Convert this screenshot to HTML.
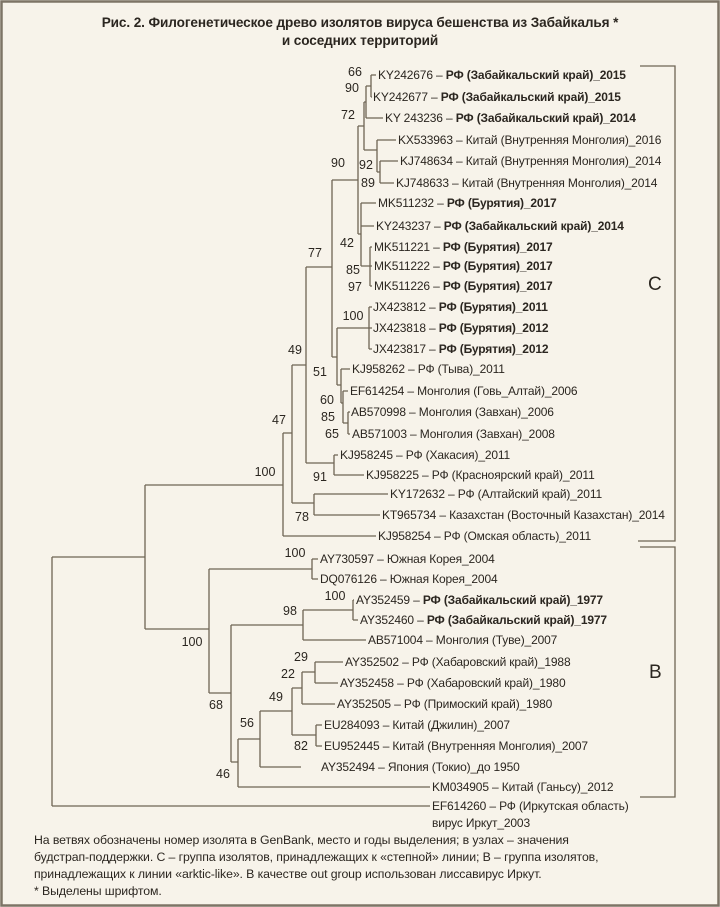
<!DOCTYPE html>
<html><head><meta charset="utf-8"><style>
html,body{margin:0;padding:0;background:#f7f3ea;}
svg{display:block;}
text{font-family:"Liberation Sans","Noto Sans CJK SC",sans-serif;fill:#2b2620;}
.l{font-size:12px;letter-spacing:-0.15px;}
.n{font-size:12.5px;text-anchor:middle;}
.b{font-weight:bold;}
</style></head><body>
<svg width="720" height="907" viewBox="0 0 720 907" xmlns="http://www.w3.org/2000/svg">
<rect x="1.5" y="1.5" width="717" height="904" fill="#f7f3ea" stroke="#7d7466" stroke-width="2.5"/>
<text x="360" y="27" class="b" style="font-size:13.6px;letter-spacing:-0.1px" text-anchor="middle">Рис. 2. Филогенетическое древо изолятов вируса бешенства из Забайкалья *</text>
<text x="360" y="45" class="b" style="font-size:13.6px;letter-spacing:-0.1px" text-anchor="middle">и соседних территорий</text>
<g stroke="#6e6454" stroke-width="1.3" fill="none">
<path d="M371 75V97M371 75H376M371 97H372
M366 86V118M366 86H371M366 118H383
M364 102V150M364 102H366M364 150H377
M377 140V172M377 140H396M377 172H380
M380 161V183M380 161H398M380 183H394
M361 203V266M361 203H376M361 226H374M361 266H370
M370 247V286M370 247H372M370 266H372M370 286H372
M358 126V234M358 126H364M358 234H361
M332 180V357M332 180H358
M337 328V385M332 357H337
M369 307V349M337 328H369M369 307H372M369 328H372M369 349H372
M341 369V403M337 385H341M341 369H350M341 403H343
M343 391V423M343 391H348M343 423H348
M348 412V434M348 412H350M348 434H350
M306 267V463M306 267H332M306 463H334
M334 455V475M334 455H338M334 475H364
M292 365V503M292 365H306M292 503H314
M314 494V515M314 494H388M314 515H380
M283 433V536M283 433H292M283 536H376
M145 485V629M145 485H283M145 629H209
M312 559V579M312 559H318M312 579H318
M209 569V693M209 569H312
M353 600V620M353 600H354M353 620H358
M303 610V640M303 610H353M303 640H366
M231 625V762M231 625H303M209 693H231
M315 662V683M315 662H343M315 683H338
M302 672V704M302 672H315M302 704H335
M316 725V746M316 725H322M316 746H322
M292 688V735M292 688H302M292 735H316
M260 711V767M260 711H292M260 767H301
M238 739V787M238 739H260M238 787H430M231 762H238
M52 557V806M52 557H145M52 806H430
M640 66H675V541H638
M640 547H675V797H640"/>
</g>
<g class="l" dominant-baseline="central">
<text x="378" y="75">KY242676 – <tspan class="b">РФ (Забайкальский край)_2015</tspan></text>
<text x="373" y="97">KY242677 – <tspan class="b">РФ (Забайкальский край)_2015</tspan></text>
<text x="385" y="118">KY 243236 – <tspan class="b">РФ (Забайкальский край)_2014</tspan></text>
<text x="398" y="140">KX533963 – Китай (Внутренняя Монголия)_2016</text>
<text x="400" y="161">KJ748634 – Китай (Внутренняя Монголия)_2014</text>
<text x="396" y="183">KJ748633 – Китай (Внутренняя Монголия)_2014</text>
<text x="378" y="203">MK511232 – <tspan class="b">РФ (Бурятия)_2017</tspan></text>
<text x="376" y="226">KY243237 – <tspan class="b">РФ (Забайкальский край)_2014</tspan></text>
<text x="374" y="247">MK511221 – <tspan class="b">РФ (Бурятия)_2017</tspan></text>
<text x="374" y="266">MK511222 – <tspan class="b">РФ (Бурятия)_2017</tspan></text>
<text x="374" y="286">MK511226 – <tspan class="b">РФ (Бурятия)_2017</tspan></text>
<text x="373" y="307">JX423812 – <tspan class="b">РФ (Бурятия)_2011</tspan></text>
<text x="373" y="328">JX423818 – <tspan class="b">РФ (Бурятия)_2012</tspan></text>
<text x="373" y="349">JX423817 – <tspan class="b">РФ (Бурятия)_2012</tspan></text>
<text x="352" y="369">KJ958262 – РФ (Тыва)_2011</text>
<text x="350" y="391">EF614254 – Монголия (Говь_Алтай)_2006</text>
<text x="351" y="412">AB570998 – Монголия (Завхан)_2006</text>
<text x="352" y="434">AB571003 – Монголия (Завхан)_2008</text>
<text x="340" y="455">KJ958245 – РФ (Хакасия)_2011</text>
<text x="366" y="475">KJ958225 – РФ (Красноярский край)_2011</text>
<text x="390" y="494">KY172632 – РФ (Алтайский край)_2011</text>
<text x="382" y="515">KT965734 – Казахстан (Восточный Казахстан)_2014</text>
<text x="378" y="536">KJ958254 – РФ (Омская область)_2011</text>
<text x="320" y="559">AY730597 – Южная Корея_2004</text>
<text x="320" y="579">DQ076126 – Южная Корея_2004</text>
<text x="356" y="600">AY352459 – <tspan class="b">РФ (Забайкальский край)_1977</tspan></text>
<text x="360" y="620">AY352460 – <tspan class="b">РФ (Забайкальский край)_1977</tspan></text>
<text x="368" y="640">AB571004 – Монголия (Туве)_2007</text>
<text x="345" y="662">AY352502 – РФ (Хабаровский край)_1988</text>
<text x="340" y="683">AY352458 – РФ (Хабаровский край)_1980</text>
<text x="337" y="704">AY352505 – РФ (Примоский край)_1980</text>
<text x="324" y="725">EU284093 – Китай (Джилин)_2007</text>
<text x="324" y="746">EU952445 – Китай (Внутренняя Монголия)_2007</text>
<text x="321" y="767">AY352494 – Япония (Токио)_до 1950</text>
<text x="432" y="787">KM034905 – Китай (Ганьсу)_2012</text>
<text x="432" y="806">EF614260 – РФ (Иркутская область)</text>
<text x="432" y="823">вирус Иркут_2003</text>
</g>
<g class="n" dominant-baseline="central">
<text x="355" y="72">66</text><text x="352" y="88">90</text><text x="348" y="115">72</text>
<text x="338" y="163">90</text><text x="366" y="165">92</text><text x="368" y="183">89</text>
<text x="347" y="243">42</text><text x="353" y="270">85</text><text x="355" y="287">97</text>
<text x="315" y="253">77</text><text x="295" y="350">49</text><text x="353" y="316">100</text>
<text x="320" y="372">51</text><text x="327" y="400">60</text><text x="328" y="417">85</text>
<text x="332" y="434">65</text><text x="320" y="477">91</text><text x="279" y="420">47</text>
<text x="265" y="472">100</text><text x="302" y="517">78</text>
<text x="295" y="553">100</text><text x="335" y="596">100</text><text x="290" y="611">98</text>
<text x="192" y="642">100</text><text x="216" y="705">68</text><text x="301" y="657">29</text>
<text x="288" y="674">22</text><text x="276" y="697">49</text><text x="247" y="723">56</text>
<text x="301" y="746">82</text><text x="223" y="774">46</text>
</g>
<text x="648" y="290" style="font-size:19px">C</text>
<text x="649" y="678" style="font-size:19px">B</text>
<g style="font-size:12.3px;letter-spacing:-0.1px">
<text x="34" y="844">На ветвях обозначены  номер изолята в GenBank, место и годы выделения;  в узлах – значения</text>
<text x="34" y="861">будстрап-поддержки.  С – группа изолятов, принадлежащих к «степной» линии; В – группа изолятов,</text>
<text x="34" y="878">принадлежащих к линии «arktic-like». В качестве out group использован лиссавирус Иркут.</text>
<text x="34" y="895">* Выделены шрифтом.</text>
</g>
</svg>
</body></html>
